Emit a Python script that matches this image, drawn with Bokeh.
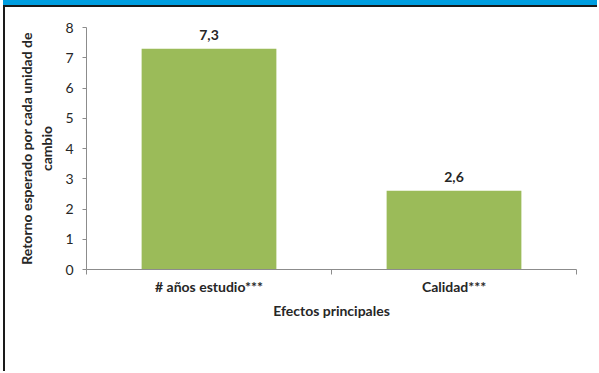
from bokeh.plotting import figure
from bokeh.models import Range1d, FixedTicker, ColumnDataSource
from bokeh.core.properties import value
from bokeh.embed import file_html
from bokeh.resources import INLINE

categories = ["# años estudio***", "Calidad***"]
values = [7.3, 2.6]
value_labels = ["7,3", "2,6"]
y_ticks = [0, 1, 2, 3, 4, 5, 6, 7, 8]

FONT = "Lato"
TEXT = "#262626"
AXIS = "#8c8c8c"

x_pos = [i + 0.5 for i in range(len(categories))]
src = ColumnDataSource(dict(x=x_pos, top=values, label=value_labels))

p = figure(width=594, height=366, output_backend="svg", toolbar_location=None,
           x_range=Range1d(0, len(categories)), y_range=Range1d(0, 8),
           min_border_left=81, min_border_right=23, min_border_top=20,
           min_border_bottom=104)
p.outline_line_color = None
p.grid.visible = False
p.background_fill_color = "white"
p.border_fill_color = "white"

# page frame: dark rules on top and left, blue band above
p.styles = {
    "margin-left": "3px",
    "margin-top": "5px",
    "border-left": "2px solid #1a1a1a",
    "border-top": "2px solid #1a1a1a",
    "box-shadow": "0 -5px 0 0 #009ee0",
}

p.vbar(x="x", top="top", width=0.55, bottom=0, source=src,
       fill_color="#9bbb59", line_color=None)
p.text(x="x", y="top", text="label", source=src, text_font=value(FONT),
       text_font_style="bold", text_font_size="14px", text_color=TEXT,
       text_align="center", text_baseline="middle", y_offset=-14)

# y axis
ya = p.yaxis[0]
ya.ticker = FixedTicker(ticks=y_ticks)
ya.axis_line_color = AXIS
ya.major_tick_line_color = AXIS
ya.major_tick_out = 4
ya.major_tick_in = 0
ya.minor_tick_line_color = None
ya.major_label_text_font = FONT
ya.major_label_text_font_size = "14px"
ya.major_label_text_color = TEXT
ya.major_label_standoff = 9
ya.axis_label = "Retorno esperado por cada unidad de\ncambio"
ya.axis_label_text_font = FONT
ya.axis_label_text_font_style = "bold"
ya.axis_label_text_font_size = "14px"
ya.axis_label_text_color = TEXT
ya.axis_label_standoff = 7

# x axis: labels at bar centres, tick marks at category boundaries
xa = p.xaxis[0]
xa.ticker = FixedTicker(ticks=x_pos, minor_ticks=list(range(len(categories) + 1)))
xa.major_label_overrides = {x: c for x, c in zip(x_pos, categories)}
xa.axis_line_color = AXIS
xa.major_tick_out = 0
xa.major_tick_in = 0
xa.minor_tick_line_color = AXIS
xa.minor_tick_out = 5
xa.minor_tick_in = 0
xa.major_label_text_font = FONT
xa.major_label_text_font_style = "bold"
xa.major_label_text_font_size = "14px"
xa.major_label_text_color = TEXT
xa.major_label_standoff = 3
xa.axis_label = "Efectos principales"
xa.axis_label_text_font = FONT
xa.axis_label_text_font_style = "bold"
xa.axis_label_text_font_size = "14px"
xa.axis_label_text_color = TEXT
xa.axis_label_standoff = 4

open("out.html", "w").write(file_html(p, INLINE))
